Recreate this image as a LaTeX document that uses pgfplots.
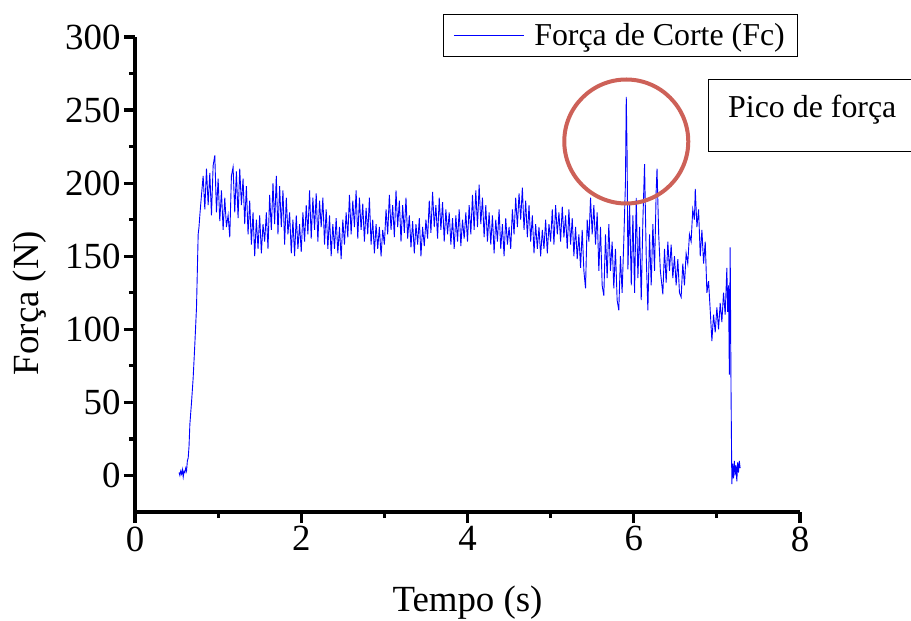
\documentclass[border=0pt]{standalone}
\usepackage{pgfplots}
\pgfplotsset{compat=1.18}
\usepackage{fontspec}
\setmainfont{Liberation Serif}
\definecolor{circ}{RGB}{205,97,88}
\begin{document}
\begin{tikzpicture}
\path[use as bounding box] (-135bp,-109bp) rectangle (776bp,512bp);
\begin{axis}[
 scale only axis, width=665bp, height=475bp,
 xmin=0, xmax=8, ymin=-25, ymax=300,
 axis x line*=bottom, axis y line*=left,
 axis line style={-, line width=3.4bp, black},
 xtick={0,2,4,6,8}, ytick={0,50,100,150,200,250,300},
 minor xtick={1,3,5,7}, minor ytick={25,75,125,175,225,275},
 tick align=outside, major tick length=11bp, minor tick length=6bp,
 major tick style={line width=3.2bp, black},
 minor tick style={line width=3.2bp, black},
 /pgf/number format/assume math mode=true,
 tick label style={font=\fontsize{37}{42}\selectfont},
 xlabel={Tempo (s)}, ylabel={Força (N)},
 xlabel style={font=\fontsize{37}{42}\selectfont, at={(axis description cs:0.5,-0.19)}, anchor=center},
 ylabel style={font=\fontsize{37}{42}\selectfont, at={(axis description cs:-0.158,0.44)}, anchor=center},
 legend style={at={(rel axis cs:0.9955,1.048)}, anchor=north east, draw=black, font=\fontsize{32}{36}\selectfont, inner xsep=10bp, inner ysep=7bp, column sep=8bp},
 legend cell align=left,
 legend image code/.code={\draw[#1] (0bp,0bp) -- (70bp,0bp);},
]
\addplot[blue, line width=0.9bp] table {
x y
0.53 2
0.54 0
0.55 3
0.56 1
0.57 4
0.58 -1
0.59 3
0.60 2
0.61 5
0.62 3
0.63 10
0.64 12
0.65 20
0.66 35
0.68 50
0.70 67
0.72 90
0.74 115
0.75 140
0.76 165
0.77 170
0.78 178
0.80 192
0.82 205
0.84 182
0.86 210
0.88 185
0.90 207
0.92 178
0.94 212
0.96 219
0.98 180
1.00 203
1.02 174
1.04 195
1.06 168
1.08 190
1.10 170
1.12 178
1.14 163
1.16 205
1.18 211
1.20 180
1.22 208
1.24 176
1.26 210
1.28 185
1.30 203
1.32 172
1.34 198
1.36 165
1.38 188
1.40 158
1.42 180
1.44 150
1.46 175
1.48 155
1.50 178
1.52 152
1.54 172
1.56 160
1.58 180
1.60 155
1.62 192
1.64 168
1.66 200
1.68 172
1.70 205
1.72 165
1.74 198
1.76 170
1.78 195
1.80 158
1.82 190
1.84 165
1.86 180
1.88 152
1.90 175
1.92 150
1.94 178
1.96 155
1.98 172
2.00 153
2.02 180
2.04 160
2.06 185
2.08 165
2.10 195
2.12 162
2.14 190
2.16 168
2.18 193
2.20 160
2.22 188
2.24 170
2.26 190
2.28 158
2.30 182
2.32 155
2.34 178
2.36 150
2.38 172
2.40 155
2.42 176
2.44 152
2.46 170
2.48 148
2.50 175
2.52 158
2.54 180
2.56 163
2.58 192
2.60 165
2.62 188
2.64 170
2.66 195
2.68 162
2.70 190
2.72 168
2.74 186
2.76 160
2.78 183
2.80 165
2.82 190
2.84 158
2.86 175
2.88 152
2.90 172
2.92 155
2.94 170
2.96 150
2.98 168
3.00 158
3.02 182
3.04 165
3.06 192
3.08 168
3.10 185
3.12 163
3.14 195
3.16 170
3.18 188
3.20 160
3.22 185
3.24 166
3.26 190
3.28 162
3.30 178
3.32 156
3.34 174
3.36 152
3.38 172
3.40 158
3.42 176
3.44 150
3.46 170
3.48 157
3.50 175
3.52 162
3.54 188
3.56 166
3.58 194
3.60 170
3.62 185
3.64 162
3.66 190
3.68 168
3.70 187
3.72 160
3.74 182
3.76 165
3.78 180
3.80 158
3.82 176
3.84 155
3.86 178
3.88 160
3.90 182
3.92 157
3.94 175
3.96 162
3.98 180
4.00 160
4.02 185
4.04 165
4.06 192
4.08 168
4.10 195
4.12 170
4.14 199
4.16 172
4.18 190
4.20 163
4.22 185
4.24 160
4.26 180
4.28 158
4.30 178
4.32 152
4.34 175
4.36 160
4.38 182
4.40 155
4.42 172
4.44 150
4.46 176
4.48 158
4.50 170
4.52 155
4.54 182
4.56 165
4.58 190
4.60 170
4.62 193
4.64 175
4.66 197
4.68 168
4.70 188
4.72 163
4.74 185
4.76 160
4.78 178
4.80 152
4.82 172
4.84 155
4.86 170
4.88 150
4.90 168
4.92 155
4.94 175
4.96 152
4.98 172
5.00 160
5.02 182
5.04 158
5.06 185
5.08 165
5.10 180
5.12 160
5.14 184
5.16 163
5.18 178
5.20 155
5.22 182
5.24 158
5.26 176
5.28 150
5.30 170
5.32 148
5.34 165
5.36 142
5.38 168
5.40 140
5.42 128
5.44 175
5.46 160
5.48 190
5.50 165
5.52 185
5.54 158
5.56 180
5.58 140
5.60 170
5.62 130
5.64 123
5.66 165
5.68 135
5.70 172
5.72 140
5.74 160
5.76 128
5.78 155
5.80 120
5.82 113
5.84 150
5.86 125
5.88 160
5.90 200
5.91 259
5.92 220
5.93 141
5.95 185
5.97 130
5.99 178
6.01 125
6.03 190
6.05 135
6.07 170
6.09 120
6.11 175
6.13 213
6.15 150
6.17 113
6.19 165
6.21 130
6.23 172
6.25 140
6.27 195
6.28 210
6.30 165
6.32 140
6.35 124
6.37 155
6.39 132
6.41 160
6.43 140
6.45 158
6.47 135
6.49 150
6.51 130
6.53 148
6.55 125
6.57 122
6.59 145
6.61 130
6.63 152
6.65 145
6.67 165
6.69 160
6.71 182
6.73 175
6.74 196
6.76 170
6.78 182
6.80 150
6.82 168
6.84 145
6.86 160
6.88 125
6.90 133
6.92 113
6.94 92
6.96 110
6.98 98
7.00 115
7.02 100
7.04 118
7.06 105
7.08 125
7.10 110
7.12 142
7.13 112
7.14 130
7.15 69
7.16 156
7.17 60
7.18 -6
7.19 8
7.20 -2
7.21 10
7.22 0
7.23 7
7.24 -4
7.25 9
7.26 2
7.27 10
7.28 5
};
\addlegendentry{Força de Corte (Fc)}
\draw[circ, line width=4bp] (axis cs:5.91,228.5) circle[radius=62bp];
\end{axis}
\draw[line width=1bp] (573bp,360bp) rectangle (800bp,432bp);
\node[anchor=base west, inner sep=0pt, font=\fontsize{32}{36}\selectfont] at (593bp,394bp) {Pico de força};
\end{tikzpicture}
\end{document}
